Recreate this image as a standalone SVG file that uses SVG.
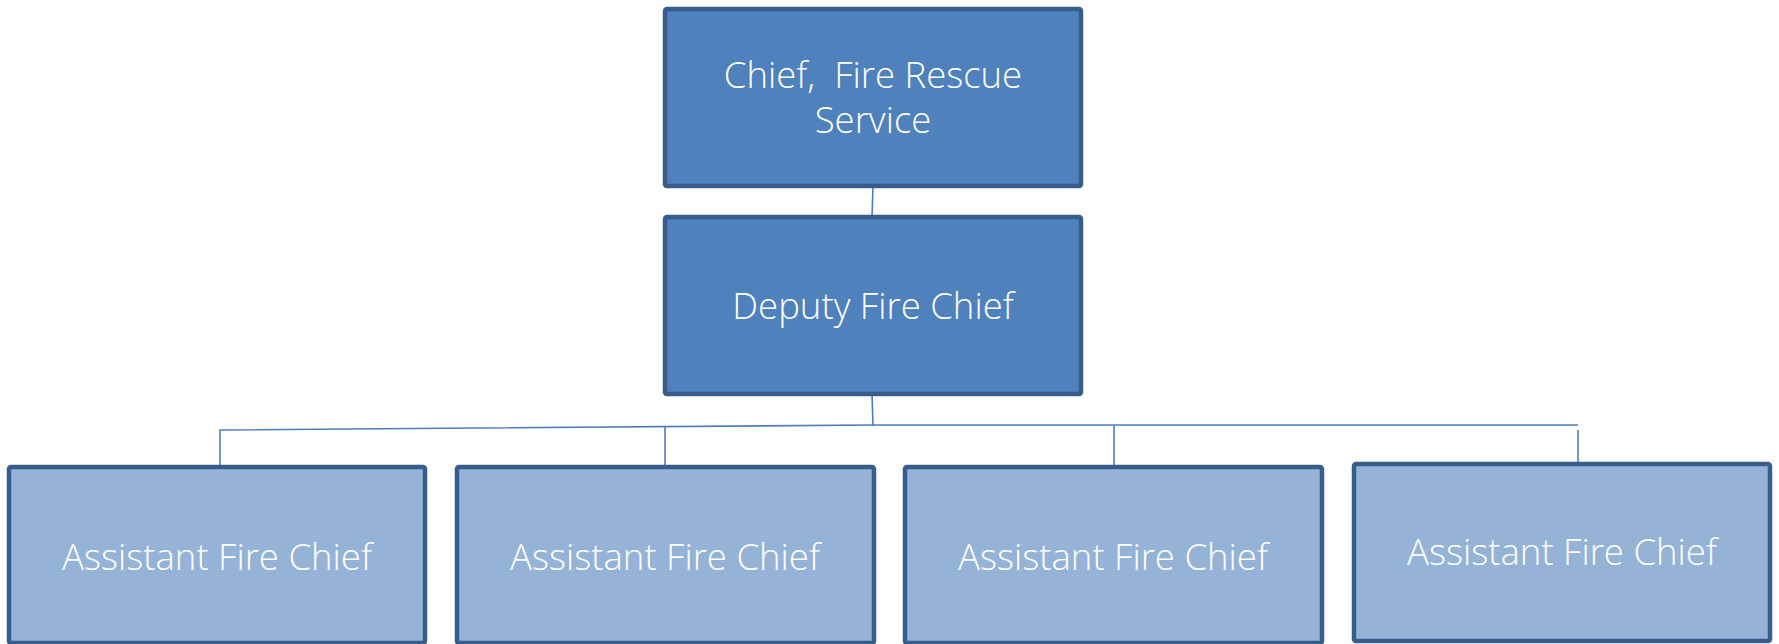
<svg xmlns="http://www.w3.org/2000/svg" width="1779" height="644" viewBox="0 0 1779 644">
<style>
.box{stroke:#385D8A;stroke-width:4.5;}
.dark{fill:#4F81BD;}
.light{fill:#95B3D7;}
.t{font-family:"Open Sans","Liberation Sans",sans-serif;font-weight:300;fill:#FFFFFF;text-anchor:middle;font-size:36.5px;}
.c{stroke:#4A7EBB;stroke-width:1.6;fill:none;}
</style>
<rect width="1779" height="644" fill="#FFFFFF"/>
<g id="connectors">
<line class="c" x1="873" y1="187" x2="872" y2="217"/>
<line class="c" x1="872" y1="394" x2="873" y2="426"/>
<polyline class="c" points="220,467 220,430 873,425 1578,425"/>
<line class="c" x1="665" y1="427" x2="665" y2="467"/>
<line class="c" x1="1114" y1="425" x2="1114" y2="467"/>
<line class="c" x1="1578" y1="430" x2="1578" y2="468"/>
</g>
<g id="chief">
<rect class="box dark" x="665" y="9" width="416" height="177" rx="2"/>
<text class="t" x="873" y="88" xml:space="preserve">Chief,  Fire Rescue</text>
<text class="t" x="873" y="133">Service</text>
</g>
<g id="deputy">
<rect class="box dark" x="665" y="217" width="416" height="177" rx="2"/>
<text class="t" x="873" y="319">Deputy Fire Chief</text>
</g>
<g id="assistant1">
<rect class="box light" x="9" y="467" width="416" height="176" rx="2"/>
<text class="t" x="217" y="570">Assistant Fire Chief</text>
</g>
<g id="assistant2">
<rect class="box light" x="457" y="467" width="417" height="176" rx="2"/>
<text class="t" x="665" y="570">Assistant Fire Chief</text>
</g>
<g id="assistant3">
<rect class="box light" x="905" y="467" width="417" height="176" rx="2"/>
<text class="t" x="1113" y="570">Assistant Fire Chief</text>
</g>
<g id="assistant4">
<rect class="box light" x="1354" y="464" width="416" height="177" rx="2"/>
<text class="t" x="1562" y="565">Assistant Fire Chief</text>
</g>
</svg>
